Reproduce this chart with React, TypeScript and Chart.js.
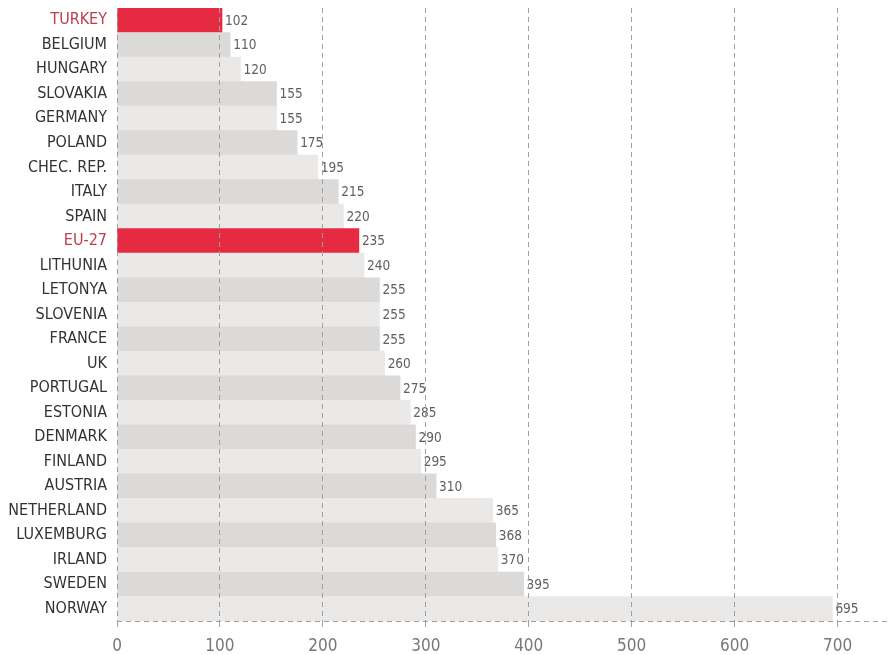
import React, { useEffect, useRef } from "react";
import { Chart, registerables } from "chart.js";
Chart.register(...registerables);

const categories = ["TURKEY","BELGIUM","HUNGARY","SLOVAKIA","GERMANY","POLAND","CHEC. REP.","ITALY","SPAIN","EU-27","LITHUNIA","LETONYA","SLOVENIA","FRANCE","UK","PORTUGAL","ESTONIA","DENMARK","FINLAND","AUSTRIA","NETHERLAND","LUXEMBURG","IRLAND","SWEDEN","NORWAY"];
const values = [102,110,120,155,155,175,195,215,220,235,240,255,255,255,260,275,285,290,295,310,365,368,370,395,695];
const highlighted = ["TURKEY", "EU-27"];
const xTicks = [0,100,200,300,400,500,600,700];

const RED = "#e62a42";
const LIGHT = "#ebe9e8";
const DARK = "#dcdad9";
const FONT = "'DejaVu Sans Condensed', 'DejaVu Sans', sans-serif";

const valueLabels = {
  id: "valueLabels",
  afterDatasetsDraw(chart: any) {
    const ctx = chart.ctx;
    const meta = chart.getDatasetMeta(0);
    ctx.save();
    ctx.font = `13.5px ${FONT}`;
    ctx.fillStyle = "#606060";
    ctx.textBaseline = "middle";
    ctx.textAlign = "left";
    meta.data.forEach((el: any, i: number) => {
      ctx.fillText(String(values[i]), el.x + 3, el.y + 1);
    });
    ctx.restore();
  },
};

export default function App() {
  const ref = useRef<HTMLCanvasElement>(null);
  useEffect(() => {
    const chart = new Chart(ref.current!, {
      type: "bar",
      data: {
        labels: categories,
        datasets: [{
          data: values,
          backgroundColor: categories.map((c, i) => highlighted.includes(c) ? RED : (i % 2 ? DARK : LIGHT)),
          barPercentage: 1,
          categoryPercentage: 1,
        }],
      },
      options: {
        indexAxis: "y",
        animation: false,
        responsive: false,
        layout: { padding: { top: 8, right: 5, bottom: 2, left: 0 } },
        plugins: { legend: { display: false }, tooltip: { enabled: false } },
        scales: {
          x: {
            min: 0,
            max: 750,
            afterBuildTicks: (s: any) => { s.ticks = xTicks.map((v) => ({ value: v })); },
            afterFit: (s: any) => { s.height = 32; s.paddingLeft = 0; s.paddingRight = 0; },
            grid: { z: 1, color: "#a0a0a0", lineWidth: 1, tickLength: 6, drawOnChartArea: true },
            border: { display: false, dash: [5, 4] },
            ticks: { color: "#777", font: { family: FONT, size: 17 }, padding: 9 },
          },
          y: {
            afterFit: (s: any) => { s.width = 117; s.paddingTop = 0; s.paddingBottom = 0; },
            grid: {
              z: 1,
              offset: true,
              drawTicks: false,
              color: (c: any) => (c.index === undefined || c.index === categories.length ? "#a0a0a0" : "rgba(0,0,0,0)"),
            },
            border: { display: false, dash: [5, 4] },
            ticks: {
              padding: 10,
              font: { family: FONT, size: 16 },
              color: (c: any) => (highlighted.includes(categories[c.index]) ? "#bf3b4e" : "#333"),
            },
          },
        },
      },
      plugins: [valueLabels],
    });
    return () => chart.destroy();
  }, []);
  return (
    <div style={{ position: "fixed", left: 0, top: 0, width: 894, height: 655, background: "#fff" }}>
      <canvas ref={ref} width={894} height={655} />
    </div>
  );
}
